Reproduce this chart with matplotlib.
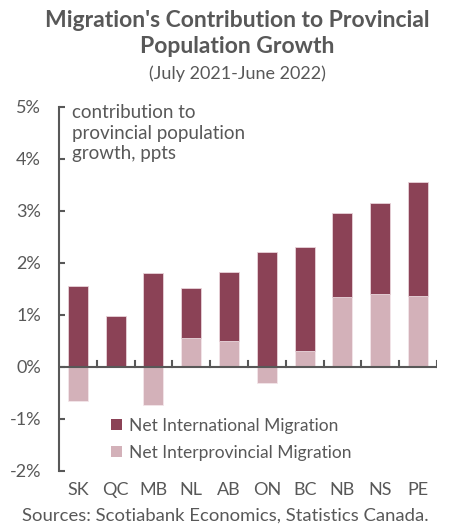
import matplotlib
matplotlib.use("Agg")
import matplotlib.pyplot as plt
from matplotlib.patches import Patch
import numpy as np

provinces = ["SK", "QC", "MB", "NL", "AB", "ON", "BC", "NB", "NS", "PE"]
international = [1.55, 0.99, 1.80, 0.95, 1.33, 2.22, 2.01, 1.63, 1.74, 2.18]
interprovincial = [-0.66, 0.0, -0.73, 0.56, 0.50, -0.30, 0.30, 1.34, 1.41, 1.37]
yticks = [-2, -1, 0, 1, 2, 3, 4, 5]
ytick_labels = ["-2%", "-1%", "0%", "1%", "2%", "3%", "4%", "5%"]

dark = "#8B4256"
light = "#D3B1B9"
gray = "#585858"
plt.rcParams['font.family'] = ['Lato', 'DejaVu Sans']

fig = plt.figure(figsize=(4.5, 5.27), dpi=100)
ax = fig.add_axes([0.131, 0.1063, 0.84, 0.6907])

x = np.arange(len(provinces))
inter = np.array(interprovincial)
intl = np.array(international)
base = np.where(inter > 0, inter, 0)
ax.bar(x, inter, width=0.53, color=light, edgecolor="#f3e6ea", linewidth=0.6, zorder=2)
ax.bar(x, intl, bottom=base, width=0.53, color=dark, edgecolor="#e8d3d9", linewidth=0.6, zorder=2)

ax.set_xlim(-0.5, len(provinces) - 0.5)
ax.set_ylim(-2, 5)
ax.set_yticks(yticks)
ax.set_yticklabels(ytick_labels)
ax.tick_params(axis='y', direction='in', length=4, width=1.5, color=gray, labelcolor=gray,
               labelsize=13, pad=13)
ax.set_xticks(x)
ax.set_xticklabels(provinces)
ax.tick_params(axis='x', length=0, labelcolor=gray, labelsize=13, pad=8)

# zero line with ticks between categories
ax.axhline(0, color=gray, lw=1.5, zorder=3)
for b in np.arange(0.5, len(provinces), 1.0):
    ax.plot([b, b], [0, 0.12], color=gray, lw=1.5, zorder=3)

for s in ["top", "right", "bottom"]:
    ax.spines[s].set_visible(False)
ax.spines["left"].set_color(gray)
ax.spines["left"].set_linewidth(1.5)

ax.text(0.035, 1.008, "contribution to\nprovincial population\ngrowth, ppts", transform=ax.transAxes,
        ha="left", va="top", fontsize=13.5, color=gray, linespacing=1.25)

handles = [Patch(facecolor=dark, edgecolor="none"), Patch(facecolor=light, edgecolor="none")]
ax.legend(handles, ["Net International Migration", "Net Interprovincial Migration"],
          loc="upper left", bbox_to_anchor=(0.12, 0.165), frameon=False, fontsize=12.5,
          labelcolor=gray, handlelength=0.6, handleheight=0.6, handletextpad=0.4,
          labelspacing=0.62, borderaxespad=0)

fig.text(0.527, 0.962, "Migration's Contribution to Provincial", ha="center", va="center",
         fontsize=16.5, fontweight="bold", color=gray)
fig.text(0.527, 0.911, "Population Growth", ha="center", va="center",
         fontsize=16.5, fontweight="bold", color=gray)
fig.text(0.527, 0.861, "(July 2021-June 2022)", ha="center", va="center",
         fontsize=13, color=gray)
fig.text(0.5, 0.022, "Sources: Scotiabank Economics, Statistics Canada.", ha="center", va="center",
         fontsize=13.3, color=gray)

fig.savefig("out.png", dpi=100)
